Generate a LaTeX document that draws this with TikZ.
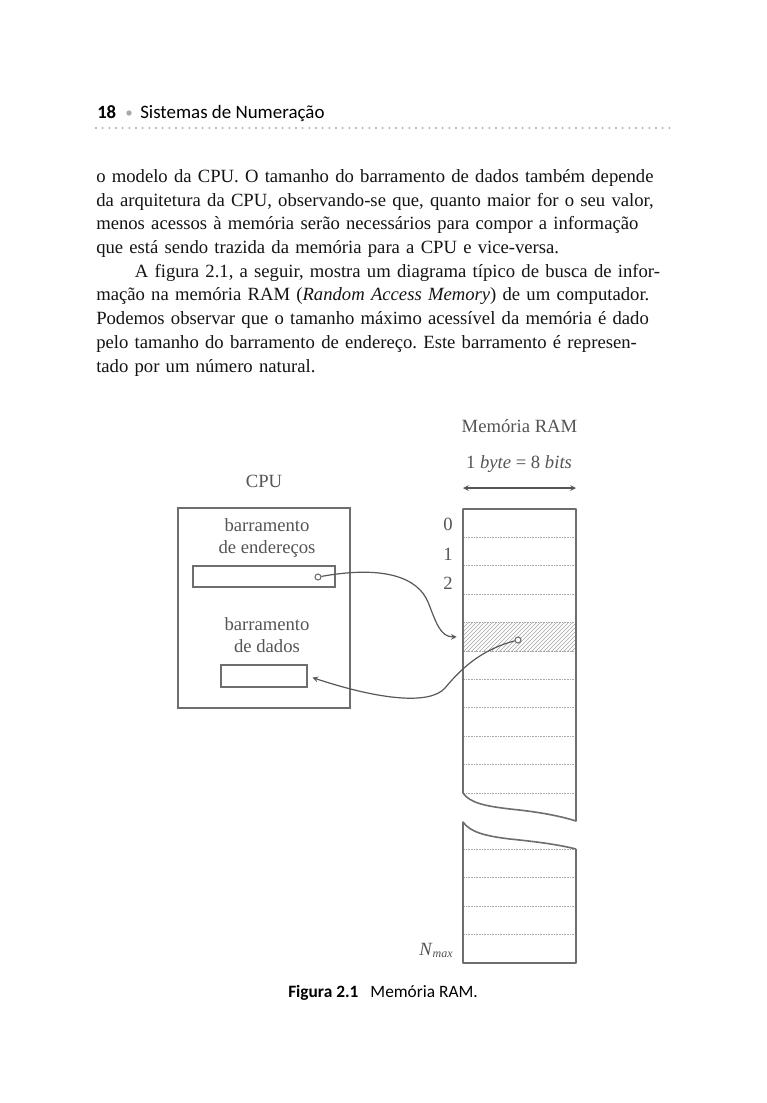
\documentclass[tikz,border=0pt]{standalone}
\usepackage{fontspec}
\setmainfont{Liberation Serif}
\newfontfamily\headfont{Carlito}
\usetikzlibrary{patterns}
\definecolor{ink}{HTML}{555555}
\definecolor{rule}{HTML}{6E6E6E}
\definecolor{dots}{HTML}{A8A8A8}
\definecolor{body}{HTML}{141414}
\frenchspacing
\begin{document}
\begin{tikzpicture}[>=stealth, x=0.75pt, y=-0.75pt]
\tikzstyle{every node}=[inner sep=0pt]
\tikzstyle{txt}=[text=ink, font=\fontsize{14}{16.5}\selectfont]
\tikzstyle{box}=[draw=rule, line width=1.1pt, rectangle]
\tikzstyle{hole}=[draw=rule, circle, line width=0.8pt, minimum size=4.5pt, fill=white]
\tikzstyle{conn}=[draw=rule!80!black, line width=0.9pt, ->]
\tikzstyle{rowline}=[draw=dots, line width=0.5pt, dash pattern=on 1.2pt off 0.8pt]
\tikzstyle{selcell}=[rectangle, pattern=north east lines, pattern color=dots]
\useasboundingbox[fill=white] (0,0) rectangle (767,1103);
\node[anchor=base west, font=\headfont\bfseries\fontsize{14}{16}\selectfont] (pg) at (97,118) {18};
\node[circle, fill=dots, minimum size=4pt] (sep) at (129,113) {};
\node[anchor=base west, font=\headfont\fontsize{14.2}{16}\selectfont] (title) at (140,118) {Sistemas de Numeração};
\draw[dots, line width=1.6pt, line cap=round, dash pattern=on 0pt off 5pt] (96,128) -- (670,128);
\node[anchor=north west, text width=430.5pt, align=left, text=body, font=\fontsize{14}{17.8}\selectfont] (text) at (96,165.4) {%
\strut\makebox[430.5pt][s]{o modelo da CPU. O tamanho do barramento de dados também depende}\\
\makebox[430.5pt][s]{da arquitetura da CPU, observando-se que, quanto maior for o seu valor,}\\
\makebox[430.5pt][s]{menos acessos à memória serão necessários para compor a informação}\\
que está sendo trazida da memória para a CPU e vice-versa.\\
\hspace*{29pt}\makebox[401.5pt][s]{A figura 2.1, a seguir, mostra um diagrama típico de busca de infor-}\\
\makebox[430.5pt][s]{mação na memória RAM (\textit{Random Access Memory}) de um computador.}\\
\makebox[430.5pt][s]{Podemos observar que o tamanho máximo acessível da memória é dado}\\
\makebox[430.5pt][s]{pelo tamanho do barramento de endereço. Este barramento é represen-}\\
tado por um número natural.};
\node[txt, anchor=base] (ramtitle) at (519.5,432) {Memória RAM};
\node[txt, anchor=base] (ramword) at (519,468) {1 \textit{byte} = 8 \textit{bits}};
\coordinate (wl) at (463,488);
\coordinate (wr) at (576,488);
\draw[<->, draw=ink, line width=0.9pt] (wl) -- (wr);
\node[txt, anchor=base] (cpulabel) at (264,487) {CPU};
\node[box, minimum width=129pt, minimum height=150pt] (cpu) at (264,608) {};
\node[txt, align=center] (abtext) at (267,538) {barramento\\de endereços};
\node[box, minimum width=106.5pt, minimum height=15.75pt] (abus) at (264,576.5) {};
\node[txt, align=center] (dbtext) at (267,635) {barramento\\de dados};
\node[box, minimum width=64.5pt, minimum height=16.5pt] (dbus) at (264,676) {};
\node[selcell, minimum width=84.75pt, minimum height=21.3pt] (sel) at (519.5,636.8) {};
\foreach \k in {1,...,10} \draw[rowline] (463,509+28.4*\k) -- (576,509+28.4*\k);
\foreach \k in {1,...,4} \draw[rowline] (463,963-28.4*\k) -- (576,963-28.4*\k);
\draw[rule, line width=1.2pt, line join=round] (463,793) -- (463,509) -- (576,509) -- (576,821) .. controls (560,816) and (540,812) .. (510,809) .. controls (485,806) and (470,803) .. (463,793);
\draw[rule, line width=1.2pt, line join=round] (576,849) -- (576,963) -- (463,963) -- (463,822) .. controls (470,832) and (485,836) .. (510,839) .. controls (540,842) and (560,845) .. (576,849);
\node[txt, anchor=base] (r0) at (448,530.5) {0};
\node[txt, anchor=base] (r1) at (448,560) {1};
\node[txt, anchor=base] (r2) at (448,589) {2};
\node[txt, anchor=base] (nmax) at (436,955) {\textit{N}\raisebox{-0.3ex}{\fontsize{9}{9}\selectfont\itshape max}};
\node[hole] (ah) at (318,577) {};
\node[hole] (dh) at (518,640) {};
\draw[conn, shorten >=4.5pt] (ah) .. controls (385,565) and (418,578) .. (428,602) .. controls (436,622) and (440,637) .. (sel.west);
\draw[conn, shorten >=3.75pt] (dh) .. controls (480,650) and (460,670) .. (445,688) .. controls (430,705) and (380,700) .. (dbus.east);
\node[anchor=base, font=\headfont\fontsize{13}{15}\selectfont] (caption) at (383,997) {\textbf{Figura 2.1}\hspace{9pt}Memória RAM.};
\end{tikzpicture}
\end{document}
